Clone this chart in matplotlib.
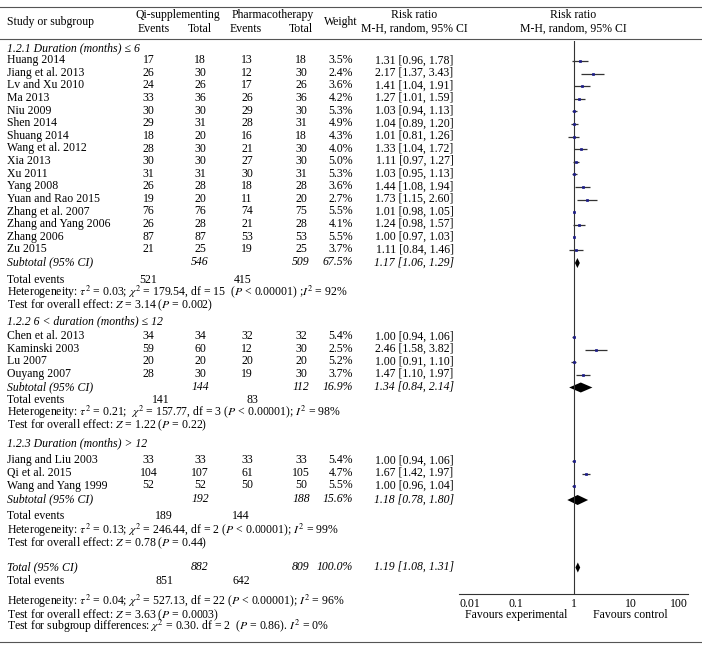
import numpy as np
import matplotlib.pyplot as plt
from matplotlib.ticker import FixedLocator, NullFormatter

plt.rcParams['font.family'] = ['Liberation Serif', 'DejaVu Serif']
plt.rcParams['mathtext.fontset'] = 'stix'

# ---- data ----
group_titles = ["1.2.1 Duration (months) \u2264 6",
                "1.2.2 6 < duration (months) \u2264 12",
                "1.2.3 Duration (months) > 12"]

studies = ["Huang 2014", "Jiang et al. 2013", "Lv and Xu 2010", "Ma 2013", "Niu 2009",
           "Shen 2014", "Shuang 2014", "Wang et al. 2012", "Xia 2013", "Xu 2011",
           "Yang 2008", "Yuan and Rao 2015", "Zhang et al. 2007", "Zhang and Yang 2006",
           "Zhang 2006", "Zu 2015",
           "Chen et al. 2013", "Kaminski 2003", "Lu 2007", "Ouyang 2007",
           "Jiang and Liu 2003", "Qi et al. 2015", "Wang and Yang 1999"]
group_of = [0] * 16 + [1] * 4 + [2] * 3

exp_events = [17, 26, 24, 33, 30, 29, 18, 28, 30, 31, 26, 19, 76, 26, 87, 21,
              34, 59, 20, 28, 33, 104, 52]
exp_total = [18, 30, 26, 36, 30, 31, 20, 30, 30, 31, 28, 20, 76, 28, 87, 25,
             34, 60, 20, 30, 33, 107, 52]
ctl_events = [13, 12, 17, 26, 29, 28, 16, 21, 27, 30, 18, 11, 74, 21, 53, 19,
              32, 12, 20, 19, 33, 61, 50]
ctl_total = [18, 30, 26, 36, 30, 31, 18, 30, 30, 31, 28, 20, 75, 28, 53, 25,
             32, 30, 20, 30, 33, 105, 50]
weights = [3.5, 2.4, 3.6, 4.2, 5.3, 4.9, 4.3, 4.0, 5.0, 5.3, 3.6, 2.7, 5.5, 4.1, 5.5, 3.7,
           5.4, 2.5, 5.2, 3.7, 5.4, 4.7, 5.5]
rr = [1.31, 2.17, 1.41, 1.27, 1.03, 1.04, 1.01, 1.33, 1.11, 1.03, 1.44, 1.73, 1.01, 1.24,
      1.00, 1.11, 1.00, 2.46, 1.00, 1.47, 1.00, 1.67, 1.00]
rr_lo = [0.96, 1.37, 1.04, 1.01, 0.94, 0.89, 0.81, 1.04, 0.97, 0.95, 1.08, 1.15, 0.98, 0.98,
         0.97, 0.84, 0.94, 1.58, 0.91, 1.10, 0.94, 1.42, 0.96]
rr_hi = [1.78, 3.43, 1.91, 1.59, 1.13, 1.20, 1.26, 1.72, 1.27, 1.13, 1.94, 2.60, 1.05, 1.57,
         1.03, 1.46, 1.06, 3.82, 1.10, 1.97, 1.06, 1.97, 1.04]

sub_exp_total = [546, 144, 192]
sub_ctl_total = [509, 112, 188]
sub_weight = [67.5, 16.9, 15.6]
sub_rr = [1.17, 1.34, 1.18]
sub_lo = [1.06, 0.84, 0.78]
sub_hi = [1.29, 2.14, 1.80]
sub_exp_events = [521, 141, 189]
sub_ctl_events = [415, 83, 144]
sub_het = [r"Heterogeneity: $\tau^2$ = 0.03; $\chi^2$ = 179.54, df = 15  ($P$ < 0.00001) ;$I^2$ = 92%",
           r"Heterogeneity: $\tau^2$ = 0.21;  $\chi^2$ = 157.77, df = 3 ($P$ < 0.00001); $I^2$ = 98%",
           r"Heterogeneity: $\tau^2$ = 0.13; $\chi^2$ = 246.44, df = 2 ($P$ < 0.00001); $I^2$ = 99%"]
sub_test = [r"Test for overall effect: $Z$ = 3.14 ($P$ = 0.002)",
            r"Test for overall effect: $Z$ = 1.22 ($P$ = 0.22)",
            r"Test for overall effect: $Z$ = 0.78 ($P$ = 0.44)"]

tot_exp_total, tot_ctl_total, tot_weight = 882, 809, 100.0
tot_rr, tot_lo, tot_hi = 1.19, 1.08, 1.31
tot_exp_events, tot_ctl_events = 851, 642
tot_het = r"Heterogeneity: $\tau^2$ = 0.04; $\chi^2$ = 527.13, df = 22 ($P$ < 0.00001); $I^2$ = 96%"
tot_test = r"Test for overall effect: $Z$ = 3.63 ($P$ = 0.0003)"
tot_sub = r"Test for subgroup differences: $\chi^2$ = 0.30. df = 2  ($P$ = 0.86). $I^2$ = 0%"

ticks = [0.01, 0.1, 1, 10, 100]
tick_labels = ["0.01", "0.1", "1", "10", "100"]

# ---- layout (pixel rows) ----
W, H = 702, 647
fs = 8.5
head_y = [47.5, 321, 443]
first_y = [60, 336, 460]
step = 12.6
subtot_y = [262, 386.5, 499]
events_y = [279.5, 400, 516]
het_y = [292.5, 412.5, 530.5]
test_y = [305, 425, 543]
events_x = [(148, 243), (161, 252), (164, 241)]
c_ev1, c_tot1, c_ev2, c_tot2, c_w, c_rr = 148.5, 200, 247, 301, 353, 414.5

fig = plt.figure(figsize=(W / 100, H / 100), dpi=100)
ax = fig.add_axes([0, 0, 1, 1])
ax.set_xlim(0, W)
ax.set_ylim(H, 0)
ax.axis('off')


def t(x, y, s, ha='left', **kw):
    # y is the visual middle of the row; draw on a common baseline
    ax.text(x, y + 3.3, s, ha=ha, va='baseline', fontsize=fs, **kw)


# forest axes
x0, x1, y_top, y_axis = 459, 688, 41, 594
axf = fig.add_axes([x0 / W, 1 - y_axis / H, (x1 - x0) / W, (y_axis - y_top) / H])
axf.set_xscale('log')
axf.set_xlim(0.01, 100)
axf.set_ylim(y_axis, y_top)
axf.patch.set_alpha(0)
for s in ['top', 'left', 'right']:
    axf.spines[s].set_visible(False)
axf.spines['bottom'].set_color('#333333')
axf.spines['bottom'].set_linewidth(0.8)
axf.set_yticks([])
axf.set_xticks(ticks)
axf.set_xticklabels(tick_labels)
axf.xaxis.set_minor_locator(FixedLocator([0.01, 100]))
axf.xaxis.set_minor_formatter(NullFormatter())
axf.tick_params(which='major', length=0, pad=3, labelsize=fs)
axf.tick_params(which='minor', length=5, direction='inout', color='#333333', width=0.8)
tl = axf.get_xticklabels()
tl[0].set_ha('left')
tl[-1].set_ha('right')
axf.axvline(1, color='#333333', lw=0.8)
axf.text(0.1, 618.3, "Favours experimental", ha='center', va='baseline', fontsize=fs)
axf.text(10, 618.3, "Favours control", ha='center', va='baseline', fontsize=fs)

# rules
for y in [7, 38.5, 642]:
    ax.plot([0, W], [y, y], color='#555555', lw=0.8)

# header
t(7, 22, "Study or subgroup")
t(177.5, 15, "Qi-supplementing", ha='center')
t(272.5, 15, "Pharmacotherapy", ha='center')
for cx, lab in [(154, "Events"), (c_tot1, "Total"), (246, "Events"), (c_tot2, "Total")]:
    t(cx, 29, lab, ha='center')
t(341, 22, "Weight", ha='center')
t(c_rr, 15, "Risk ratio", ha='center')
t(c_rr, 28.5, "M-H, random, 95% CI", ha='center')
t(573, 15, "Risk ratio", ha='center')
t(573, 28.5, "M-H, random, 95% CI", ha='center')


def diamond(y, mid, lo, hi):
    axf.fill([lo, mid, hi, mid], [y, y - 5, y, y + 5], color='black', lw=0)


counts = [0, 0, 0]
for i, name in enumerate(studies):
    g = group_of[i]
    y = first_y[g] + step * counts[g]
    counts[g] += 1
    t(7, y, name)
    t(c_ev1, y, str(exp_events[i]), ha='center')
    t(c_tot1, y, str(exp_total[i]), ha='center')
    t(c_ev2, y, str(ctl_events[i]), ha='center')
    t(c_tot2, y, str(ctl_total[i]), ha='center')
    t(c_w, y, f"{weights[i]:.1f}%", ha='right')
    t(c_rr, y, f"{rr[i]:.2f} [{rr_lo[i]:.2f}, {rr_hi[i]:.2f}]", ha='center')
    axf.hlines(y + 1, rr_lo[i], rr_hi[i], color='#333333', lw=0.9)
    axf.plot(rr[i], y + 1, 's', ms=1.9, color='#1c1c8a', mec='#1c1c8a', mew=0.5)

for g in range(3):
    t(7, head_y[g], group_titles[g], style='italic')
    ys = subtot_y[g]
    t(7, ys, "Subtotal (95% CI)", style='italic')
    t(c_tot1, ys, str(sub_exp_total[g]), ha='center', style='italic')
    t(c_tot2, ys, str(sub_ctl_total[g]), ha='center', style='italic')
    t(c_w, ys, f"{sub_weight[g]:.1f}%", ha='right', style='italic')
    t(c_rr, ys, f"{sub_rr[g]:.2f} [{sub_lo[g]:.2f}, {sub_hi[g]:.2f}]", ha='center', style='italic')
    diamond(ys + 1, sub_rr[g], sub_lo[g], sub_hi[g])
    t(7, events_y[g], "Total events")
    t(events_x[g][0], events_y[g], str(sub_exp_events[g]), ha='center')
    t(events_x[g][1], events_y[g], str(sub_ctl_events[g]), ha='center')
    t(7, het_y[g], sub_het[g])
    t(7, test_y[g], sub_test[g])

# overall
yt = 566.5
t(7, yt, "Total (95% CI)", style='italic')
t(c_tot1, yt, str(tot_exp_total), ha='center', style='italic')
t(c_tot2, yt, str(tot_ctl_total), ha='center', style='italic')
t(c_w, yt, f"{tot_weight:.1f}%", ha='right', style='italic')
t(c_rr, yt, f"{tot_rr:.2f} [{tot_lo:.2f}, {tot_hi:.2f}]", ha='center', style='italic')
diamond(yt + 1, tot_rr, tot_lo, tot_hi)
t(7, 581, "Total events")
t(164, 581, str(tot_exp_events), ha='center')
t(241, 581, str(tot_ctl_events), ha='center')
t(7, 602, tot_het)
t(7, 615, tot_test)
t(7, 627, tot_sub)

fig.savefig("out.png", dpi=100)
